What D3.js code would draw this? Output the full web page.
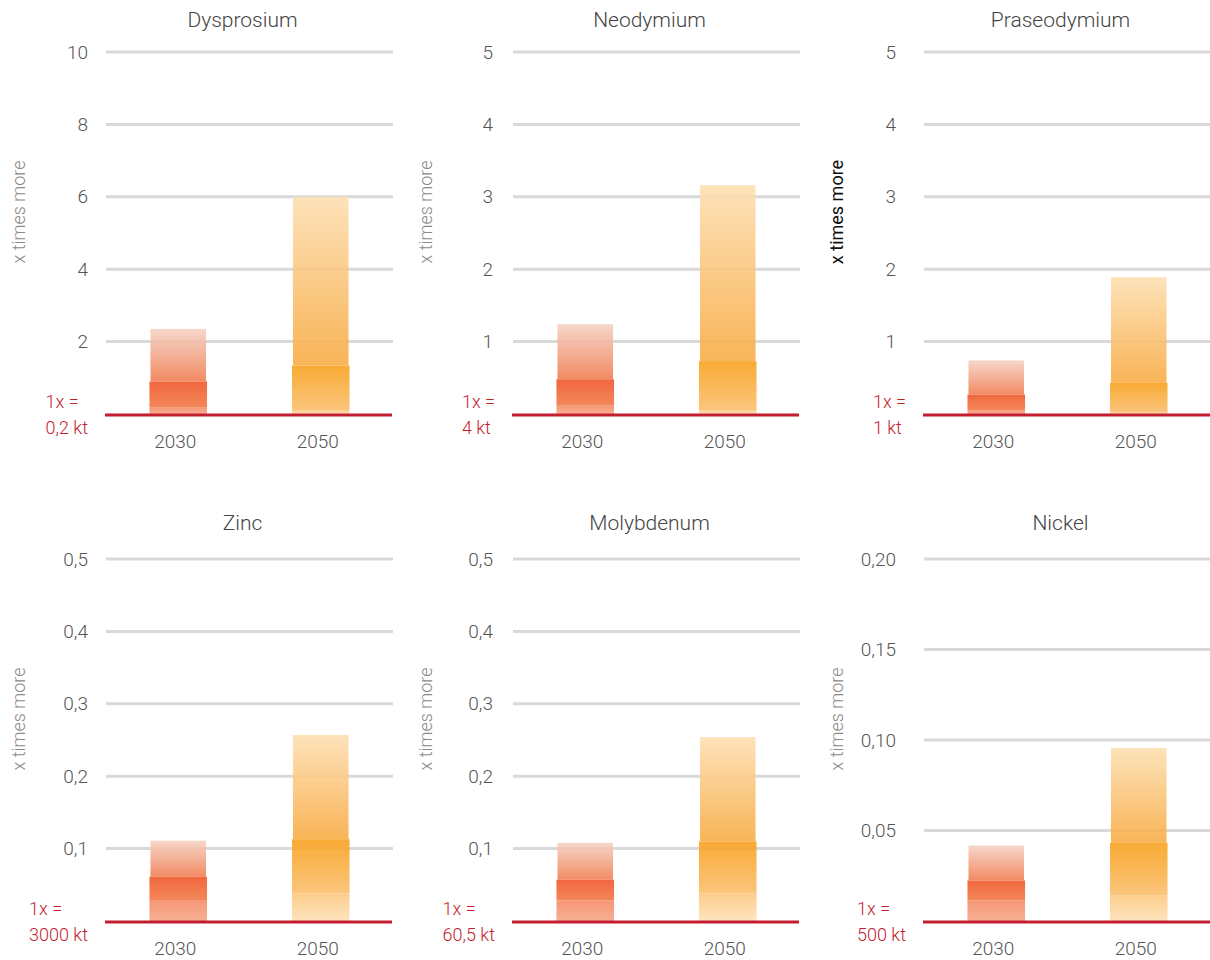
<!DOCTYPE html>
<html>
<head>
<meta charset="utf-8">
<script src="https://cdn.jsdelivr.net/npm/d3@7"></script>
<style>
  html, body { margin: 0; padding: 0; background: #fff; }
  svg { display: block; font-family: Roboto, "Open Sans", sans-serif; }
</style>
</head>
<body>
<svg id="chart" width="1210" height="960"></svg>
<script>
// ---------- DATA ----------
const materials = ["Dysprosium", "Neodymium", "Praseodymium", "Zinc", "Molybdenum", "Nickel"];
const years = ["2030", "2050"];
// bottom band (0 -> low), middle band (low -> mid), top band (mid -> high), per material [2030, 2050]
const lowValues  = [[0.175, 0.09], [0.115, 0.05], [0.05, 0.02], [0.029, 0.038], [0.0285, 0.038], [0.0114, 0.0142]];
const midValues  = [[0.90, 1.34], [0.48, 0.73], [0.27, 0.43], [0.061, 0.113], [0.057, 0.110], [0.0224, 0.0432]];
const highValues = [[2.35, 6.0], [1.24, 3.16], [0.74, 1.89], [0.111, 0.257], [0.108, 0.254], [0.0417, 0.0956]];
const yMax = [10, 5, 5, 0.5, 0.5, 0.2];
const yTicks = [
  [2, 4, 6, 8, 10],
  [1, 2, 3, 4, 5],
  [1, 2, 3, 4, 5],
  [0.1, 0.2, 0.3, 0.4, 0.5],
  [0.1, 0.2, 0.3, 0.4, 0.5],
  [0.05, 0.10, 0.15, 0.20]
];
const tickDecimals = [0, 0, 0, 1, 1, 2];
const baseLabelTop = "1x =";
const baseUnits = ["0,2 kt", "4 kt", "1 kt", "3000 kt", "60,5 kt", "500 kt"];
const yAxisTitle = "x times more";

// ---------- LAYOUT ----------
const colLeft = [106, 513, 924];
const plotWidth = 287;
const rowTop = [52, 559];
const titleGap = [25, 29];
const plotHeight = 362;
const tickOffset = [18, 20, 28];
const titleColor = ["#8a8a8a", "#8a8a8a", "#111", "#8a8a8a", "#8a8a8a", "#8a8a8a"];

const locale = d3.formatLocale({decimal: ",", thousands: ".", grouping: [3], currency: ["", "€"]});

const svg = d3.select("#chart");
const defs = svg.append("defs");

const gradients = {
  "2030": {
    top: ["#f5d2c4", "#f07e52"],
    mid: ["#ef5629", "#f27a48"],
    low: ["#f48c65", "#f6a688"]
  },
  "2050": {
    top: ["#fddfb2", "#f8ac45"],
    mid: ["#f8a11f", "#fbbf6e"],
    low: ["#fcc87f", "#fee1b7"]
  }
};
Object.entries(gradients).forEach(([yr, segs]) => {
  Object.entries(segs).forEach(([seg, cols]) => {
    const g = defs.append("linearGradient")
      .attr("id", `g${yr}${seg}`)
      .attr("x1", 0).attr("y1", 0).attr("x2", 0).attr("y2", 1);
    g.append("stop").attr("offset", "0%").attr("stop-color", cols[0]);
    g.append("stop").attr("offset", "100%").attr("stop-color", cols[1]);
  });
});

materials.forEach((name, i) => {
  const col = i % 3, row = Math.floor(i / 3);
  const x0 = colLeft[col], y0 = rowTop[row];
  const g = svg.append("g");

  const y = d3.scaleLinear().domain([0, yMax[i]]).range([y0 + plotHeight, y0]);
  const x = d3.scaleBand().domain(years).range([x0, x0 + plotWidth])
    .paddingInner(0.596).paddingOuter(0.305);
  const fmt = locale.format(`.${tickDecimals[i]}f`);

  // title
  g.append("text")
    .attr("x", x0 + plotWidth / 2 - 7)
    .attr("y", y0 - titleGap[row])
    .attr("text-anchor", "middle")
    .attr("font-size", 21)
    .attr("font-weight", 300)
    .attr("fill", "#444")
    .text(name);

  // gridlines
  g.selectAll("line.grid").data(yTicks[i]).join("line")
    .attr("class", "grid")
    .attr("x1", x0).attr("x2", x0 + plotWidth)
    .attr("y1", d => y(d)).attr("y2", d => y(d))
    .attr("stroke", "#d9d9d9").attr("stroke-width", 3);

  // y axis labels
  const axis = d3.axisLeft(y).tickValues(yTicks[i]).tickSize(0).tickPadding(0).tickFormat(fmt);
  const ag = g.append("g")
    .attr("transform", `translate(${x0 - tickOffset[col]},0)`)
    .call(axis);
  ag.select(".domain").remove();
  ag.selectAll("text")
    .attr("font-size", 19)
    .attr("fill", "#555")
    .attr("font-family", "Roboto, 'Open Sans', sans-serif")
    .attr("font-weight", 300);

  // y axis title
  g.append("text")
    .attr("transform", `translate(${x0 - 86},${y0 + 160}) rotate(-90)`)
    .attr("text-anchor", "middle")
    .attr("dominant-baseline", "middle")
    .attr("font-size", 18)
    .attr("font-weight", col === 2 && row === 0 ? 400 : 300)
    .attr("fill", titleColor[i])
    .text(yAxisTitle);

  // bars
  years.forEach((yr, j) => {
    const segs = [
      {key: "low", a: 0, b: lowValues[i][j], inset: 0},
      {key: "mid", a: lowValues[i][j], b: midValues[i][j], inset: 0},
      {key: "top", a: midValues[i][j], b: highValues[i][j], inset: 1}
    ];
    g.append("g").selectAll("rect").data(segs).join("rect")
      .attr("x", d => x(yr) + d.inset)
      .attr("width", d => x.bandwidth() - 2 * d.inset)
      .attr("y", d => y(d.b))
      .attr("height", d => y(d.a) - y(d.b))
      .attr("fill", d => `url(#g${yr}${d.key})`)
      .attr("opacity", 0.9);
  });

  // baseline
  g.append("line")
    .attr("x1", x0 - 1).attr("x2", x0 + plotWidth - 1)
    .attr("y1", y(0) + 1).attr("y2", y(0) + 1)
    .attr("stroke", "#c41d30").attr("stroke-width", 3);

  // x labels
  g.selectAll("text.xl").data(years).join("text")
    .attr("class", "xl")
    .attr("x", d => x(d) + x.bandwidth() / 2 - 3)
    .attr("y", y(0) + 34)
    .attr("text-anchor", "middle")
    .attr("font-size", 19)
    .attr("font-weight", 300)
    .attr("fill", "#555")
    .text(d => d);

  // base unit label (block left-aligned, right edge near axis)
  const lbl = g.append("g");
  const t1 = lbl.append("text").attr("y", y(0) - 6).attr("font-size", 18).attr("font-weight", 300)
    .attr("fill", "#c41d30").text(baseLabelTop);
  const t2 = lbl.append("text").attr("y", y(0) + 20).attr("font-size", 18).attr("font-weight", 300)
    .attr("fill", "#c41d30").text(baseUnits[i]);
  const w = Math.max(t1.node().getComputedTextLength(), t2.node().getComputedTextLength());
  const left = x0 - 18 - w;
  t1.attr("x", left);
  t2.attr("x", left);
});
</script>
</body>
</html>
